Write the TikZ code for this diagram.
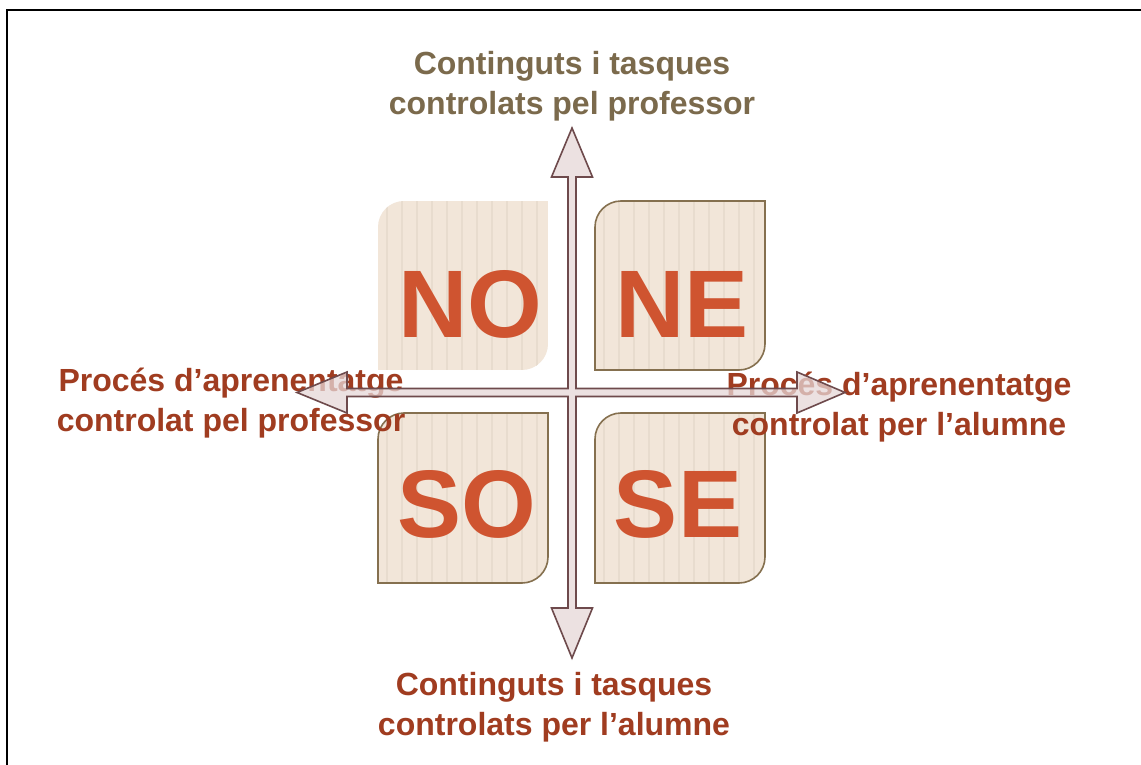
\documentclass[tikz,border=0pt]{standalone}
\usepackage{fontspec}
\setmainfont{Liberation Sans}
\definecolor{qfillc}{HTML}{F2E6D9}
\definecolor{qstripec}{HTML}{E8DCCE}
\definecolor{qborderc}{HTML}{85704F}
\definecolor{letterc}{HTML}{CF5430}
\definecolor{arrowfillc}{HTML}{E6D7D8}
\definecolor{arrowlinec}{HTML}{6E4A4C}
\definecolor{toplabelc}{HTML}{7B6A4C}
\definecolor{labelc}{HTML}{A03C20}
\tikzset{
  qstripe/.style={draw=qstripec, line width=2.5pt},
  qedge/.style={draw=qborderc, line width=1.6pt},
  qnoedge/.style={},
  bigletter/.style={text=letterc, font=\fontsize{96}{96}\selectfont\bfseries, anchor=base, inner sep=0pt},
  axislabel/.style={font=\fontsize{32}{40}\selectfont\bfseries, align=center, inner sep=0pt, anchor=center},
  blockarrow/.style={fill=arrowfillc, fill opacity=0.75, draw=arrowlinec, draw opacity=1, line width=1.6pt, line join=miter},
}
\newcommand\drawquad[5]{%
  \begin{scope}
    \clip (#1,#4) -- (#1,#2+26) .. controls (#1,#2+11.7) and (#1+11.7,#2) .. (#1+26,#2) -- (#3,#2) -- (#3,#4-26) .. controls (#3,#4-11.7) and (#3-11.7,#4) .. (#3-26,#4) -- cycle;
    \fill[qfillc] (#1,#2) rectangle (#3,#4);
    \foreach \sx in {9,24,...,169} \draw[qstripe] (#1+\sx,#2) -- (#1+\sx,#4);
  \end{scope}
  \path[#5] (#1,#4) -- (#1,#2+26) .. controls (#1,#2+11.7) and (#1+11.7,#2) .. (#1+26,#2) -- (#3,#2) -- (#3,#4-26) .. controls (#3,#4-11.7) and (#3-11.7,#4) .. (#3-26,#4) -- cycle;
}
\begin{document}
\begin{tikzpicture}[x=1pt,y=-1pt]
\useasboundingbox (0,0) rectangle (1141,765);
\fill[white] (0,0) rectangle (1141,765);
% frame (only top and left edges visible)
\draw[line width=2.2pt, black] (7,770) -- (7,10) -- (1150,10);

% quadrant boxes
\drawquad{378}{201}{548}{370}{qnoedge}
\drawquad{595}{201}{765}{370}{qedge}
\drawquad{378}{413}{548}{583}{qedge}
\drawquad{595}{413}{765}{583}{qedge}

\node[bigletter] (no) at (470,337) {NO};
\node[bigletter] (ne) at (682,337) {NE};
\node[bigletter] (so) at (467,537) {SO};
\node[bigletter] (se) at (678,537) {SE};

% axis labels
\node[axislabel, text=toplabelc] (top) at (572,86) {Continguts i tasques\\controlats pel professor};
\node[axislabel, text=labelc] (bottom) at (554,707) {Continguts i tasques\\controlats per l’alumne};
\node[axislabel, text=labelc] (left) at (231,403) {Procés d’aprenentatge\\controlat pel professor};
\node[axislabel, text=labelc] (right) at (899,407) {Procés d’aprenentatge\\controlat per l’alumne};

% cross of block arrows
\coordinate (c) at (572,392.5);
\path[blockarrow]
  (572,128) -- (592.5,177) -- (576,177) -- (576,388.5)
  -- (797,388.5) -- (797,372) -- (845,392.5) -- (797,413) -- (797,396.5)
  -- (576,396.5) -- (576,608) -- (592.5,608) -- (572,658) -- (551.5,608) -- (568,608)
  -- (568,396.5) -- (347,396.5) -- (347,413) -- (297,392.5) -- (347,372) -- (347,388.5)
  -- (568,388.5) -- (568,177) -- (551.5,177) -- cycle;
\end{tikzpicture}
\end{document}
